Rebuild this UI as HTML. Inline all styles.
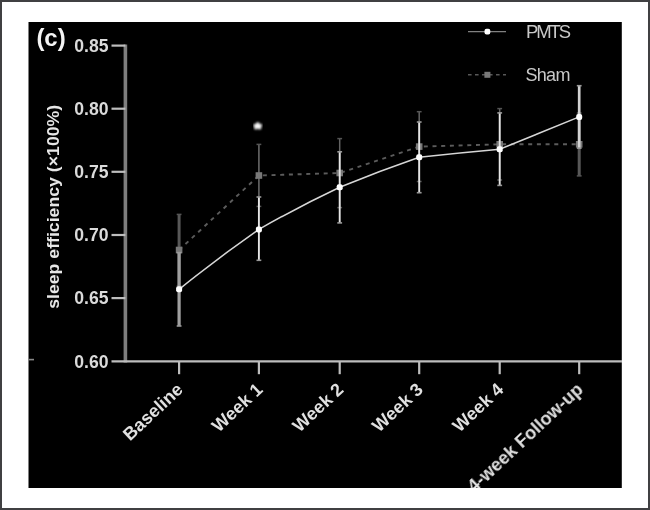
<!DOCTYPE html>
<html><head><meta charset="utf-8"><title>Figure (c) sleep efficiency</title>
<style>
html,body{margin:0;padding:0;background:#fff;}
body{width:650px;height:510px;overflow:hidden;}
#frame{position:absolute;left:0;top:0;width:650px;height:510px;box-sizing:border-box;border:2px solid #404042;background:#fff;}
svg{position:absolute;left:0;top:0;display:block;}
text{font-family:"Liberation Sans",Arial,Helvetica,sans-serif;}
</style></head><body>
<div id="frame"></div>
<svg width="650" height="510" viewBox="0 0 650 510">
<defs>
<clipPath id="panel"><rect x="28.5" y="22" width="593.3" height="466"/></clipPath>
<filter id="soft" x="-5%" y="-5%" width="110%" height="110%"><feGaussianBlur stdDeviation="0.65"/></filter>
<filter id="soft2" x="-5%" y="-5%" width="110%" height="110%"><feGaussianBlur stdDeviation="0.8"/></filter>
</defs>
<rect x="28.5" y="22" width="593.3" height="466" fill="#000" filter="url(#soft)"/>
<g clip-path="url(#panel)"><g filter="url(#soft)">

<g stroke="#7e7e7e" stroke-width="3.6" fill="none">
<line x1="125.4" y1="44.6" x2="125.4" y2="362.4"/>
</g><g stroke="#bdbdbd" stroke-width="2.2" fill="none">
<line x1="111.5" y1="361.3" x2="632" y2="361.3"/>
<line x1="111.5" y1="45.6" x2="125.4" y2="45.6"/>
<line x1="111.5" y1="108.7" x2="125.4" y2="108.7"/>
<line x1="111.5" y1="171.8" x2="125.4" y2="171.8"/>
<line x1="111.5" y1="235.0" x2="125.4" y2="235.0"/>
<line x1="111.5" y1="298.1" x2="125.4" y2="298.1"/>
<line x1="179.1" y1="361.3" x2="179.1" y2="374.2"/>
<line x1="258.9" y1="361.3" x2="258.9" y2="374.2"/>
<line x1="339.7" y1="361.3" x2="339.7" y2="374.2"/>
<line x1="419.2" y1="361.3" x2="419.2" y2="374.2"/>
<line x1="499.7" y1="361.3" x2="499.7" y2="374.2"/>
<line x1="579.2" y1="361.3" x2="579.2" y2="374.2"/>
<line x1="28.5" y1="359.6" x2="34" y2="359.6" stroke="#888" stroke-width="1.6"/>
</g>
<g fill="#dadada" font-size="17.6" font-weight="bold" text-anchor="end">
<text x="108.5" y="51.9">0.85</text>
<text x="108.5" y="115.0">0.80</text>
<text x="108.5" y="178.2">0.75</text>
<text x="108.5" y="241.3">0.70</text>
<text x="108.5" y="304.4">0.65</text>
<text x="108.5" y="367.6">0.60</text>
</g>
<text x="36.4" y="45.8" fill="#f4f4f4" font-size="23.5" font-weight="bold" textLength="29.3" lengthAdjust="spacingAndGlyphs">(c)</text>
<text transform="translate(58.8,308.8) rotate(-90)" fill="#e6e6e6" font-size="17" font-weight="bold" textLength="204" lengthAdjust="spacingAndGlyphs">sleep efficiency (×100%)</text>
<g fill="#e0e0e0" font-size="18" font-weight="bold" text-anchor="end">
<text transform="translate(184.1,391.0) rotate(-43)">Baseline</text>
<text transform="translate(263.9,391.0) rotate(-43)">Week 1</text>
<text transform="translate(344.7,391.0) rotate(-43)">Week 2</text>
<text transform="translate(424.2,391.0) rotate(-43)">Week 3</text>
<text transform="translate(504.7,391.0) rotate(-43)">Week 4</text>
<text transform="translate(584.2,391.0) rotate(-43)">4-week Follow-up</text>
</g>
<g fill="none">
<line x1="179.1" y1="214.4" x2="179.1" y2="286.0" stroke="#585858" stroke-width="3.0"/>
<line x1="176.7" y1="214.4" x2="181.5" y2="214.4" stroke="#555555" stroke-width="1.5"/>
<line x1="176.7" y1="286.0" x2="181.5" y2="286.0" stroke="#555555" stroke-width="1.5"/>
<line x1="258.9" y1="144.4" x2="258.9" y2="206.4" stroke="#6e6e6e" stroke-width="1.5"/>
<line x1="256.5" y1="144.4" x2="261.3" y2="144.4" stroke="#555555" stroke-width="1.5"/>
<line x1="256.5" y1="206.4" x2="261.3" y2="206.4" stroke="#555555" stroke-width="1.5"/>
<line x1="339.7" y1="138.6" x2="339.7" y2="207.6" stroke="#646464" stroke-width="1.5"/>
<line x1="337.3" y1="138.6" x2="342.1" y2="138.6" stroke="#555555" stroke-width="1.5"/>
<line x1="337.3" y1="207.6" x2="342.1" y2="207.6" stroke="#555555" stroke-width="1.5"/>
<line x1="419.2" y1="111.7" x2="419.2" y2="181.5" stroke="#646464" stroke-width="1.5"/>
<line x1="416.8" y1="111.7" x2="421.6" y2="111.7" stroke="#555555" stroke-width="1.5"/>
<line x1="416.8" y1="181.5" x2="421.6" y2="181.5" stroke="#555555" stroke-width="1.5"/>
<line x1="499.7" y1="108.6" x2="499.7" y2="180.0" stroke="#646464" stroke-width="1.5"/>
<line x1="497.3" y1="108.6" x2="502.1" y2="108.6" stroke="#555555" stroke-width="1.5"/>
<line x1="497.3" y1="180.0" x2="502.1" y2="180.0" stroke="#555555" stroke-width="1.5"/>
<line x1="579.2" y1="113.0" x2="579.2" y2="175.9" stroke="#585858" stroke-width="3.0"/>
<line x1="576.8" y1="113.0" x2="581.6" y2="113.0" stroke="#555555" stroke-width="1.5"/>
<line x1="576.8" y1="175.9" x2="581.6" y2="175.9" stroke="#555555" stroke-width="1.5"/>
<polyline stroke="#5c5c5c" stroke-width="1.9" stroke-dasharray="4 4.7" points="179.1,250.0 258.9,175.5 339.7,173.0 419.2,146.6 499.7,144.3 579.2,144.3"/>
</g><g fill="#787878">
<rect x="175.8" y="246.7" width="6.6" height="6.6"/>
<rect x="255.6" y="172.2" width="6.6" height="6.6"/>
<rect x="336.4" y="169.7" width="6.6" height="6.6"/>
<rect x="415.9" y="143.3" width="6.6" height="6.6"/>
<rect x="496.4" y="141.0" width="6.6" height="6.6"/>
<rect x="575.9" y="141.0" width="6.6" height="6.6"/>
</g>
<g fill="none">
<line x1="179.1" y1="252.6" x2="179.1" y2="326.0" stroke="#a0a0a0" stroke-width="3.2"/>
<line x1="176.7" y1="252.6" x2="181.5" y2="252.6" stroke="#9a9a9a" stroke-width="1.6"/>
<line x1="176.7" y1="326.0" x2="181.5" y2="326.0" stroke="#9a9a9a" stroke-width="1.6"/>
<line x1="258.9" y1="197.0" x2="258.9" y2="260.3" stroke="#e6e6e6" stroke-width="1.9"/>
<line x1="256.5" y1="197.0" x2="261.3" y2="197.0" stroke="#9a9a9a" stroke-width="1.6"/>
<line x1="256.5" y1="260.3" x2="261.3" y2="260.3" stroke="#9a9a9a" stroke-width="1.6"/>
<line x1="339.7" y1="151.8" x2="339.7" y2="222.9" stroke="#e6e6e6" stroke-width="1.9"/>
<line x1="337.3" y1="151.8" x2="342.1" y2="151.8" stroke="#9a9a9a" stroke-width="1.6"/>
<line x1="337.3" y1="222.9" x2="342.1" y2="222.9" stroke="#9a9a9a" stroke-width="1.6"/>
<line x1="419.2" y1="122.0" x2="419.2" y2="192.7" stroke="#e6e6e6" stroke-width="1.9"/>
<line x1="416.8" y1="122.0" x2="421.6" y2="122.0" stroke="#9a9a9a" stroke-width="1.6"/>
<line x1="416.8" y1="192.7" x2="421.6" y2="192.7" stroke="#9a9a9a" stroke-width="1.6"/>
<line x1="499.7" y1="112.9" x2="499.7" y2="185.4" stroke="#e6e6e6" stroke-width="1.9"/>
<line x1="497.3" y1="112.9" x2="502.1" y2="112.9" stroke="#9a9a9a" stroke-width="1.6"/>
<line x1="497.3" y1="185.4" x2="502.1" y2="185.4" stroke="#9a9a9a" stroke-width="1.6"/>
<line x1="579.2" y1="85.7" x2="579.2" y2="148.1" stroke="#d2d2d2" stroke-width="2.7"/>
<line x1="576.8" y1="85.7" x2="581.6" y2="85.7" stroke="#9a9a9a" stroke-width="1.6"/>
<line x1="576.8" y1="148.1" x2="581.6" y2="148.1" stroke="#9a9a9a" stroke-width="1.6"/>
<path stroke="#d6d6d6" stroke-width="1.5" d="M179.1,289.3 Q219.0,257.2 258.9,229.4 Q299.3,206.3 339.7,187.2 Q379.4,171.1 419.2,157.3 Q459.4,152.9 499.7,149.3 Q539.5,133.1 579.2,116.9"/>
</g><g fill="#ffffff">
<rect x="176.1" y="286.3" width="6" height="6" rx="2"/>
<rect x="255.9" y="226.4" width="6" height="6" rx="2"/>
<rect x="336.7" y="184.2" width="6" height="6" rx="2"/>
<rect x="416.2" y="154.3" width="6" height="6" rx="2"/>
<rect x="496.7" y="146.3" width="6" height="6" rx="2"/>
<rect x="576.2" y="113.9" width="6" height="6" rx="2"/>
</g>
<text transform="translate(257.8,135.2) scale(1.2,1)" fill="#fff" stroke="#fff" stroke-width="0.8" font-size="17" font-weight="bold" text-anchor="middle" filter="url(#soft2)">*</text>
<line x1="468" y1="31.7" x2="506" y2="31.7" stroke="#808080" stroke-width="1.2"/>
<rect x="484.5" y="28.8" width="5.8" height="5.8" rx="2" fill="#fff"/>
<line x1="468" y1="74.8" x2="506" y2="74.8" stroke="#585858" stroke-width="1.4" stroke-dasharray="3.6 3.4"/>
<rect x="484.4" y="71.8" width="6" height="6" fill="#787878"/>
<text x="526" y="37.8" fill="#c8c8c8" font-size="18.5" letter-spacing="-2.1">PMTS</text>
<text x="525.5" y="80.7" fill="#c8c8c8" font-size="18" letter-spacing="-0.7">Sham</text>
</g></g>
</svg>
</body></html>
